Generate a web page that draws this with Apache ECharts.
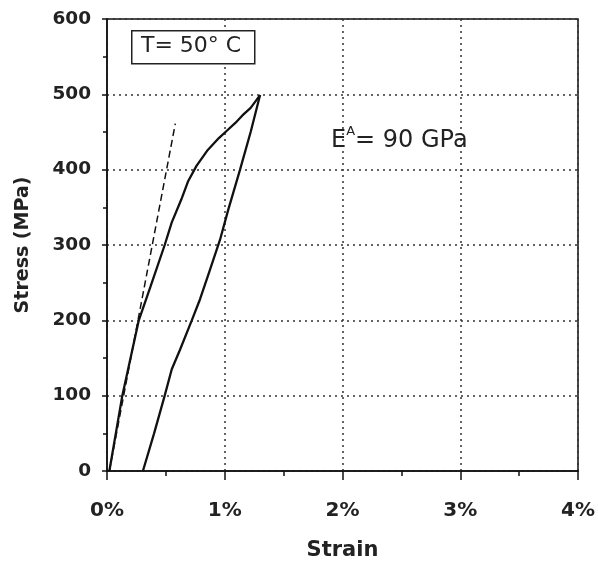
<!DOCTYPE html>
<html><head><meta charset="utf-8">
<script src="https://cdn.jsdelivr.net/npm/echarts@6/dist/echarts.min.js"></script>
<style>html,body{margin:0;padding:0;background:#fff}#c{width:598px;height:566px}</style>
</head><body><div id="c"></div>
<script>
// Strain (%) and stress (MPa)
var loadStrain = [0.02, 0.13, 0.27, 0.37, 0.49, 0.55, 0.63, 0.69, 0.76, 0.85, 0.95, 1.02, 1.09, 1.15, 1.22, 1.30];
var loadStress = [0, 100, 200, 245, 300, 330, 360, 385, 405, 425, 442, 452, 462, 472, 482, 499];
var unloadStrain = [1.30, 1.22, 1.13, 1.03, 0.96, 0.87, 0.79, 0.72, 0.62, 0.55, 0.49, 0.40, 0.305];
var unloadStress = [499, 450, 400, 347, 307, 265, 228, 200, 161, 135, 100, 50, 0];
var dashStrain = [0.02, 0.58];
var dashStress = [0, 461];
var xTicks = ['0%', '1%', '2%', '3%', '4%'];
var yTicks = [0, 100, 200, 300, 400, 500, 600];

function pairs(a, b) { return a.map(function (v, i) { return [v, b[i]]; }); }

var chart = echarts.init(document.getElementById('c'));
var bold = '"DejaVu Sans", sans-serif';
chart.setOption({
  backgroundColor: '#fff',
  animation: false,
  grid: { left: 107, right: 20, top: 19, bottom: 94, show: true, borderColor: '#111', borderWidth: 1.5, backgroundColor: 'transparent' },
  xAxis: {
    type: 'value', min: 0, max: 4, interval: 1,
    name: 'Strain', nameLocation: 'middle', nameGap: 69,
    nameTextStyle: { fontFamily: bold, fontWeight: 'bold', fontSize: 21, color: '#222' },
    axisLine: { lineStyle: { color: '#111', width: 1.5 } },
    axisTick: { show: true, length: 9, lineStyle: { color: '#111', width: 1.5 } },
    minorTick: { show: true, splitNumber: 2, length: 5, lineStyle: { color: '#111', width: 1.5 } },
    axisLabel: { margin: 30, fontFamily: bold, fontWeight: 'bold', fontSize: 20, color: '#222',
      formatter: function (v) { return xTicks[Math.round(v)]; } },
    splitLine: { show: true, lineStyle: { color: '#333', type: [2, 4], width: 1.5 } }
  },
  yAxis: {
    type: 'value', min: 0, max: 600, interval: 100,
    name: 'Stress (MPa)', nameLocation: 'middle', nameGap: 74, nameRotate: 90,
    nameTextStyle: { fontFamily: bold, fontWeight: 'bold', fontSize: 19, color: '#222' },
    axisLine: { show: true, lineStyle: { color: '#111', width: 1.5 } },
    axisTick: { show: true, length: 5, lineStyle: { color: '#111', width: 1.5 } },
    minorTick: { show: true, splitNumber: 2, length: 4, lineStyle: { color: '#111', width: 1.5 } },
    axisLabel: { margin: 16, fontFamily: bold, fontWeight: 'bold', fontSize: 18.5, color: '#222',
      formatter: function (v) { return yTicks.indexOf(v) >= 0 ? String(v) : ''; } },
    splitLine: { show: true, lineStyle: { color: '#333', type: [2, 4], width: 1.5 } }
  },
  series: [
    { type: 'line', data: pairs(loadStrain, loadStress), showSymbol: false,
      lineStyle: { color: '#111', width: 2.3 } },
    { type: 'line', data: pairs(unloadStrain, unloadStress), showSymbol: false,
      lineStyle: { color: '#111', width: 2.3 } },
    { type: 'line', data: pairs(dashStrain, dashStress), showSymbol: false,
      lineStyle: { color: '#111', width: 1.5, type: [7, 4] } }
  ],
  graphic: [
    { type: 'rect', left: 131, top: 30, shape: { width: 123, height: 33 },
      style: { fill: '#fff', stroke: '#222', lineWidth: 1.5 }, z: 100 },
    { type: 'text', left: 141, top: 35, z: 101,
      style: { text: 'T= 50° C', font: '22px "DejaVu Sans", sans-serif', fill: '#222' } },
    { type: 'text', left: 331, top: 125, z: 101,
      style: { text: '{e|E}{s|A}{e|= 90 GPa}', fill: '#222',
        rich: { e: { fontSize: 24, fontFamily: bold, fill: '#222', verticalAlign: 'bottom', lineHeight: 28 },
                s: { fontSize: 13, fontFamily: bold, fill: '#222', verticalAlign: 'top', lineHeight: 28, padding: [0, 0, 13, 0] } } } }
  ]
});
</script></body></html>
